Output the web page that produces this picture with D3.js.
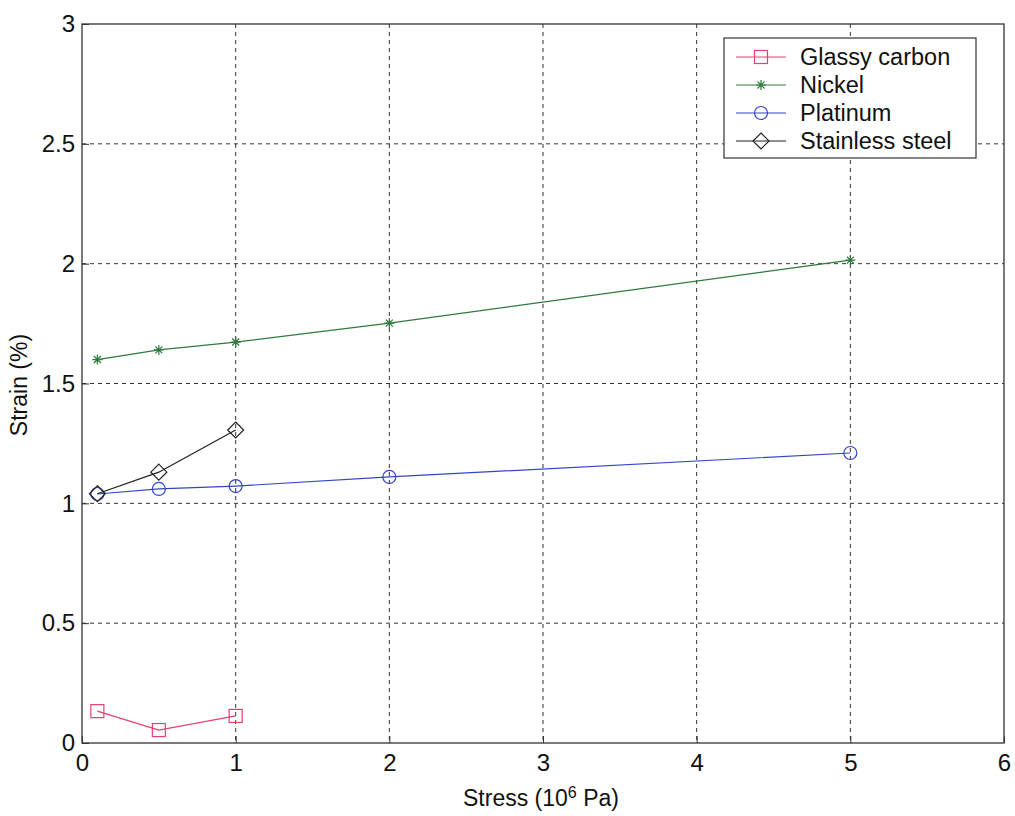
<!DOCTYPE html>
<html>
<head>
<meta charset="utf-8">
<script src="https://cdn.jsdelivr.net/npm/d3@7"></script>
<style>
  body { margin: 0; background: #fff; }
  text { font-family: "Liberation Sans", Arial, sans-serif; }
</style>
</head>
<body>
<svg id="chart" width="1015" height="816"></svg>
<script>
// series
const glassyX = [0.1, 0.5, 1];
const glassyY = [0.133, 0.054, 0.113];
const nickelX = [0.1, 0.5, 1, 2, 5];
const nickelY = [1.60, 1.64, 1.673, 1.752, 2.015];
const platinumX = [0.1, 0.5, 1, 2, 5];
const platinumY = [1.039, 1.06, 1.072, 1.11, 1.21];
const steelX = [0.1, 0.5, 1];
const steelY = [1.04, 1.13, 1.306];

const xTicks = [0, 1, 2, 3, 4, 5, 6];
const yTicks = [0, 0.5, 1, 1.5, 2, 2.5, 3];

const series = [
  { name: "Glassy carbon", xs: glassyX, ys: glassyY, color: "#e8406e", marker: "square" },
  { name: "Nickel", xs: nickelX, ys: nickelY, color: "#2f7a3c", marker: "star" },
  { name: "Platinum", xs: platinumX, ys: platinumY, color: "#3346c8", marker: "circle" },
  { name: "Stainless steel", xs: steelX, ys: steelY, color: "#222", marker: "diamond" }
];

const svg = d3.select("#chart");
const m = { left: 82, right: 1004, top: 24, bottom: 743 };

const x = d3.scaleLinear().domain([0, 6]).range([m.left, m.right]);
const y = d3.scaleLinear().domain([0, 3]).range([m.bottom, m.top]);

// grid
const grid = svg.append("g");
grid.selectAll(".vg").data(xTicks.slice(1, -1)).enter().append("line")
  .attr("x1", d => x(d)).attr("x2", d => x(d))
  .attr("y1", m.top).attr("y2", m.bottom)
  .attr("stroke", "#333").attr("stroke-width", 1).attr("stroke-dasharray", "4,4");
grid.selectAll(".hg").data(yTicks.slice(1, -1)).enter().append("line")
  .attr("x1", m.left).attr("x2", m.right)
  .attr("y1", d => y(d)).attr("y2", d => y(d))
  .attr("stroke", "#333").attr("stroke-width", 1).attr("stroke-dasharray", "4,4");

// box
svg.append("rect")
  .attr("x", m.left).attr("y", m.top)
  .attr("width", m.right - m.left).attr("height", m.bottom - m.top)
  .attr("fill", "none").attr("stroke", "#333").attr("stroke-width", 1.3);

// axes with inward ticks
const fmt = d3.format("~g");
const xAxis = d3.axisBottom(x).tickValues(xTicks).tickSizeInner(-7).tickSizeOuter(0).tickPadding(9)
  .tickFormat(fmt);
const yAxis = d3.axisLeft(y).tickValues(yTicks).tickSizeInner(-7).tickSizeOuter(0).tickPadding(7)
  .tickFormat(fmt);

const gx = svg.append("g").attr("transform", `translate(0,${m.bottom})`).call(xAxis);
const gy = svg.append("g").attr("transform", `translate(${m.left},0)`).call(yAxis);
[gx, gy].forEach(g => {
  g.select(".domain").remove();
  g.selectAll(".tick line").attr("stroke", "#333");
  g.selectAll(".tick text").attr("font-size", 24).attr("fill", "#111")
    .attr("font-family", "Liberation Sans, Arial, sans-serif");
});
gx.selectAll(".tick text").attr("dy", "0.8em");

// axis titles
const xt = svg.append("text")
  .attr("x", 541).attr("y", 806)
  .attr("text-anchor", "middle").attr("font-size", 23).attr("fill", "#111");
xt.append("tspan").text("Stress (10");
xt.append("tspan").attr("baseline-shift", "super").attr("font-size", 16).text("6");
xt.append("tspan").text(" Pa)");

svg.append("text")
  .attr("transform", "translate(27,385) rotate(-90)")
  .attr("text-anchor", "middle").attr("font-size", 23).attr("fill", "#111")
  .text("Strain (%)");

// markers
function drawMarker(g, type, color) {
  if (type === "square") {
    g.append("rect").attr("x", -6.5).attr("y", -6.5).attr("width", 13).attr("height", 13)
      .attr("fill", "none").attr("stroke", color).attr("stroke-width", 1.2);
  } else if (type === "circle") {
    g.append("circle").attr("r", 6.5)
      .attr("fill", "none").attr("stroke", color).attr("stroke-width", 1.2);
  } else if (type === "diamond") {
    g.append("path").attr("d", "M0,-8L8,0L0,8L-8,0Z")
      .attr("fill", "none").attr("stroke", color).attr("stroke-width", 1.2);
  } else if (type === "star") {
    g.append("path").attr("d", "M-5,0L5,0M0,-5L0,5M-3.5,-3.5L3.5,3.5M-3.5,3.5L3.5,-3.5")
      .attr("fill", "none").attr("stroke", color).attr("stroke-width", 1.2);
  }
}

const line = d3.line().x(d => x(d[0])).y(d => y(d[1]));
const plot = svg.append("g");
series.forEach(s => {
  const pts = s.xs.map((v, i) => [v, s.ys[i]]);
  plot.append("path").datum(pts).attr("d", line)
    .attr("fill", "none").attr("stroke", s.color).attr("stroke-width", 1.2);
  pts.forEach(p => {
    const g = plot.append("g").attr("transform", `translate(${x(p[0])},${y(p[1])})`);
    drawMarker(g, s.marker, s.color);
  });
});

// legend
const lg = svg.append("g").attr("transform", "translate(724,38)");
lg.append("rect").attr("width", 252).attr("height", 120)
  .attr("fill", "#fff").attr("stroke", "#333").attr("stroke-width", 1.2);
series.forEach((s, i) => {
  const cy = 19 + i * 28;
  lg.append("line").attr("x1", 12).attr("x2", 62).attr("y1", cy).attr("y2", cy)
    .attr("stroke", s.color).attr("stroke-width", 1.2);
  const g = lg.append("g").attr("transform", `translate(37,${cy})`);
  drawMarker(g, s.marker, s.color);
  lg.append("text").attr("x", 76).attr("y", cy).attr("dy", "0.35em")
    .attr("font-size", 23.5).attr("fill", "#111").text(s.name);
});
</script>
</body>
</html>
